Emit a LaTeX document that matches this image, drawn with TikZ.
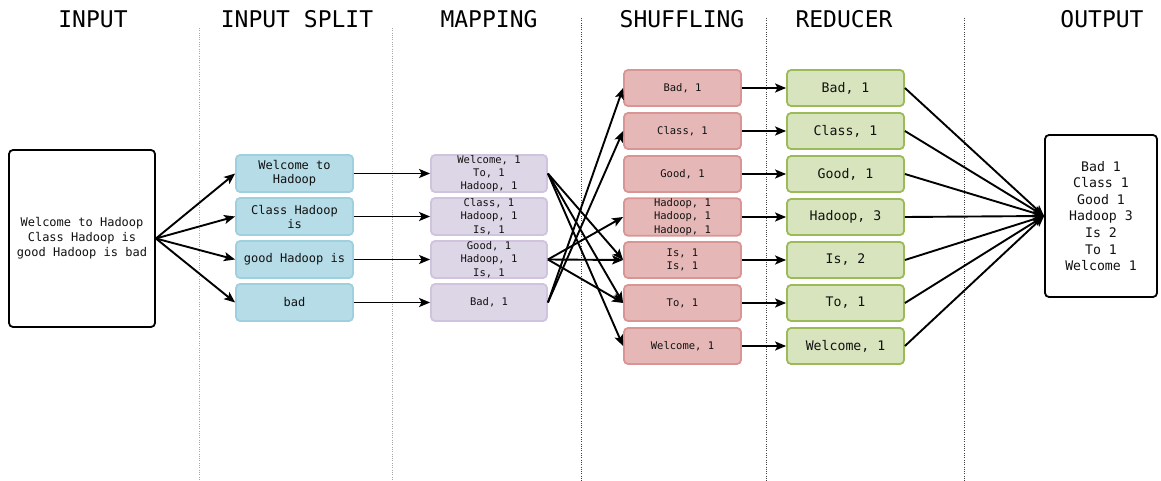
\documentclass[tikz,border=0pt]{standalone}
\usepackage{fontspec}
\setmainfont{DejaVu Sans Mono}
\usetikzlibrary{arrows.meta}

\definecolor{splitfill}{HTML}{B5DCE7}
\definecolor{splitline}{HTML}{9ED0DE}
\definecolor{mapfill}{HTML}{DDD6E6}
\definecolor{mapline}{HTML}{CFC3DD}
\definecolor{shufill}{HTML}{E5B8B7}
\definecolor{shuline}{HTML}{D99594}
\definecolor{redfill}{HTML}{D7E4BD}
\definecolor{redline}{HTML}{9BBB59}
\definecolor{txt}{HTML}{111111}

\tikzset{
  box/.style={rounded corners=4pt, line width=1.8pt, align=center, text=txt,
    inner sep=0pt},
  textbox/.style={box, draw=black, fill=white,
    font=\fontsize{12}{15}\selectfont},
  splitbox/.style={box, draw=splitline, fill=splitfill,
    minimum width=117pt, minimum height=37pt,
    font=\fontsize{12}{14}\selectfont},
  mapbox/.style={box, draw=mapline, fill=mapfill,
    minimum width=116pt, minimum height=37pt,
    font=\fontsize{10.5}{13.3}\selectfont},
  shufbox/.style={box, draw=shuline, fill=shufill,
    minimum width=117pt, minimum height=36pt,
    font=\fontsize{10.5}{13.6}\selectfont},
  redbox/.style={box, draw=redline, fill=redfill,
    minimum width=117pt, minimum height=36pt,
    font=\fontsize{13.2}{16}\selectfont},
  title/.style={font=\fontsize{23}{25}\selectfont, text=black, inner sep=0pt},
  flow/.style={line width=1.9pt, -{Stealth[length=11pt,width=9pt,inset=2.5pt]}},
  sep/.style={line width=0.8pt, dash pattern=on 0.9pt off 1.4pt},
}

\begin{document}
\begin{tikzpicture}[x=1pt, y=-1pt]
\useasboundingbox (0,0) rectangle (1161,481);

% column headings
\node[title] (tIn)  at (93,19.5)   {INPUT};
\node[title] (tSp)  at (297,19.5)  {INPUT SPLIT};
\node[title] (tMap) at (489,19.5)  {MAPPING};
\node[title] (tShu) at (682,19.5)  {SHUFFLING};
\node[title] (tRed) at (844,19.5)  {REDUCER};
\node[title] (tOut) at (1102,19.5) {OUTPUT};

% column separators
\draw[sep, gray!70]  (199,28) -- (199,481);
\draw[sep, gray!70]  (392,28) -- (392,481);
\draw[sep, black!75] (581,18) -- (581,481);
\draw[sep, black!75] (766,18) -- (766,481);
\draw[sep, black!75] (964,18) -- (964,481);

% input text
\node[textbox, minimum width=146pt, minimum height=177pt] (in) at (82,238.5)
  {Welcome to Hadoop\\Class Hadoop is\\good Hadoop is bad};

% splits
\node[splitbox] (s1) at (294.5,173.5) {Welcome to\\Hadoop};
\node[splitbox] (s2) at (294.5,216.5) {Class Hadoop\\is};
\node[splitbox] (s3) at (294.5,259.5) {good Hadoop is};
\node[splitbox] (s4) at (294.5,302.5) {bad};

% map output
\node[mapbox] (m1) at (489,173.5) {Welcome, 1\\To, 1\\Hadoop, 1};
\node[mapbox] (m2) at (489,216.5) {Class, 1\\Hadoop, 1\\Is, 1};
\node[mapbox] (m3) at (489,259.5) {Good, 1\\Hadoop, 1\\Is, 1};
\node[mapbox] (m4) at (489,302.5) {Bad, 1};

% shuffled groups
\node[shufbox] (h1) at (682.5,88)  {Bad, 1};
\node[shufbox] (h2) at (682.5,131) {Class, 1};
\node[shufbox] (h3) at (682.5,174) {Good, 1};
\node[shufbox] (h4) at (682.5,217) {Hadoop, 1\\Hadoop, 1\\Hadoop, 1};
\node[shufbox] (h5) at (682.5,260) {Is, 1\\Is, 1};
\node[shufbox] (h6) at (682.5,303) {To, 1};
\node[shufbox] (h7) at (682.5,346) {Welcome, 1};

% reduced counts
\node[redbox] (r1) at (845.5,88)  {Bad, 1};
\node[redbox] (r2) at (845.5,131) {Class, 1};
\node[redbox] (r3) at (845.5,174) {Good, 1};
\node[redbox] (r4) at (845.5,217) {Hadoop, 3};
\node[redbox] (r5) at (845.5,260) {Is, 2};
\node[redbox] (r6) at (845.5,303) {To, 1};
\node[redbox] (r7) at (845.5,346) {Welcome, 1};

% final result
\node[textbox, minimum width=112pt, minimum height=162pt,
  font=\fontsize{13.2}{16.6}\selectfont] (out) at (1101,216)
  {Bad 1\\Class 1\\Good 1\\Hadoop 3\\Is 2\\To 1\\Welcome 1};

% input -> splits
\foreach \s in {s1,s2,s3,s4} \draw[flow] (in.east) -- (\s.west);

% splits -> map
\draw[flow] (s1.east) -- (m1.west);
\draw[flow] (s2.east) -- (m2.west);
\draw[flow] (s3.east) -- (m3.west);
\draw[flow] (s4.east) -- (m4.west);

% map -> shuffle
\draw[flow] (m1.east) -- (h5.west);
\draw[flow] (m1.east) -- (h6.west);
\draw[flow] (m1.east) -- (h7.west);
\draw[flow] (m3.east) -- (h4.west);
\draw[flow] (m3.east) -- (h5.west);
\draw[flow] (m3.east) -- (h6.west);
\draw[flow] (m4.east) -- (h1.west);
\draw[flow] (m4.east) -- (h2.west);

% shuffle -> reduce
\foreach \i in {1,...,7} \draw[flow] (h\i.east) -- (r\i.west);

% reduce -> output
\foreach \i in {1,...,7} \draw[flow] (r\i.east) -- (out.west);
\end{tikzpicture}
\end{document}
